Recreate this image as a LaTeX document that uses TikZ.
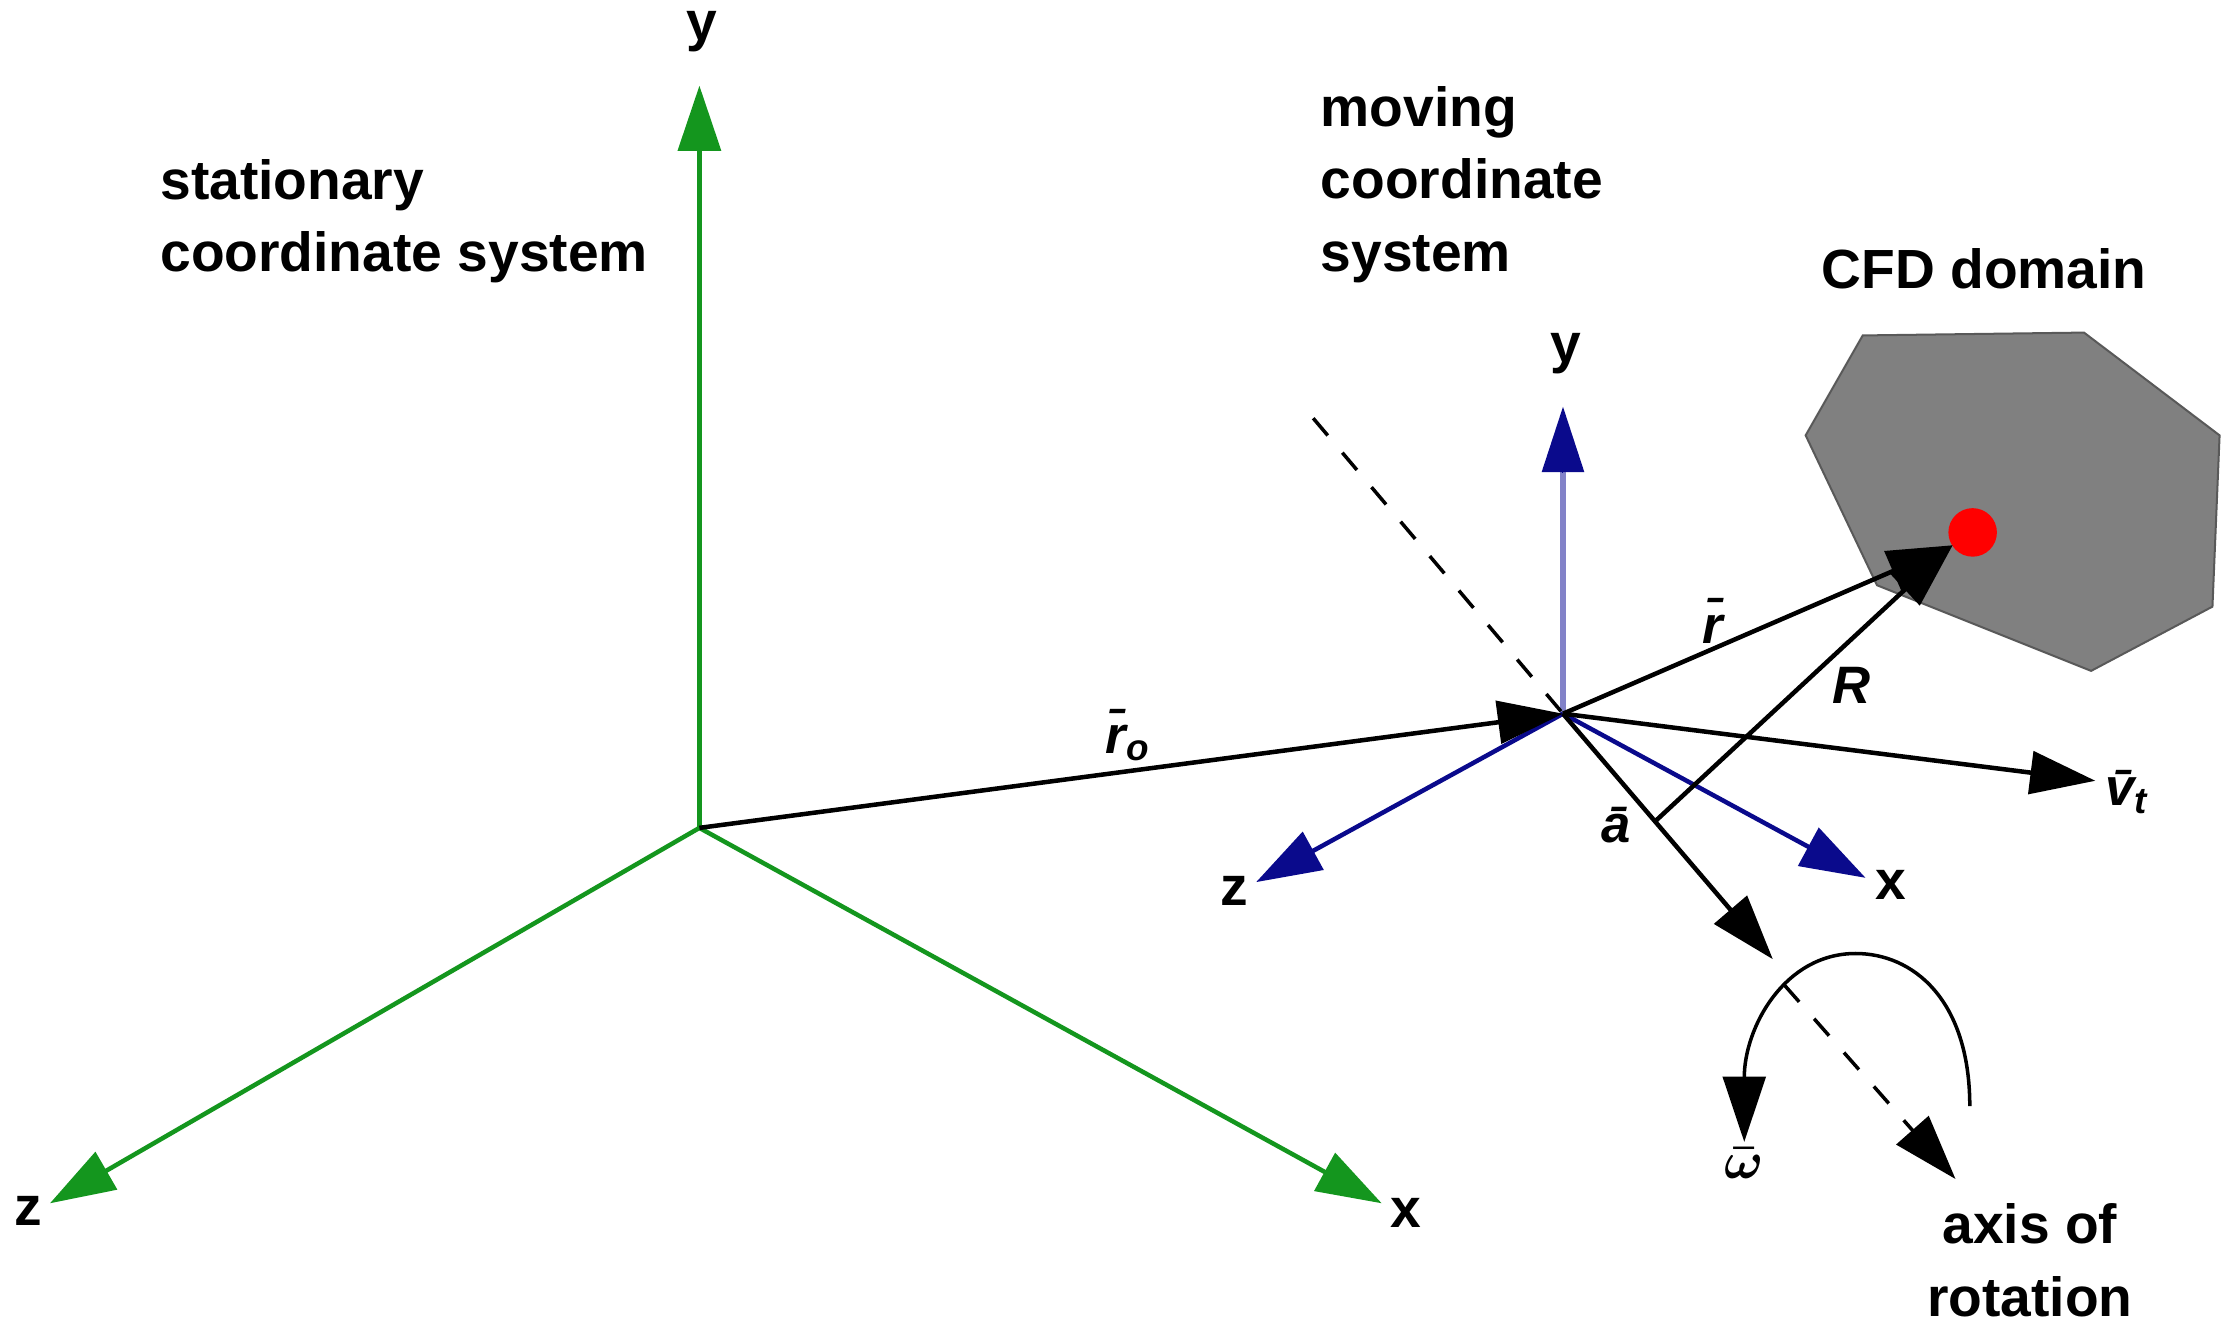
\documentclass[tikz,border=0pt]{standalone}
\usepackage{fontspec}
\usepackage{amsmath}
\setmainfont{Liberation Sans}
\usetikzlibrary{arrows.meta}
\definecolor{gr}{RGB}{20,150,30}
\definecolor{nv}{RGB}{10,10,140}
\definecolor{lb}{RGB}{130,130,200}
\definecolor{dom}{RGB}{128,128,128}
\begin{document}
\begin{tikzpicture}[x=0.02cm,y=-0.02cm,
  lbl/.style={font=\fontsize{22}{29}\selectfont\bfseries,align=left,inner sep=0pt},
  ml/.style={font=\fontsize{21}{24}\selectfont\bfseries\itshape,inner sep=0pt},
  tip/.style={-{Triangle[length=26pt,width=17pt]}},
  g/.style={gr,line width=1.8pt,tip},
  b/.style={nv,line width=1.8pt,tip},
  k/.style={black,line width=1.8pt,tip}]
\useasboundingbox (0,0) rectangle (1563,930);
% CFD domain
\fill[dom,draw=gray!70!black,line width=0.8pt] (1305,235)--(1460,233)--(1555,305)--(1550,425)--(1465,470)--(1315,410)--(1265,305)--cycle;
\fill[red] (1382,373) circle (17);
% stationary system
\coordinate (O) at (490,580);
\coordinate (sy) at (490,60);
\coordinate (sz) at (35,843);
\coordinate (sx) at (968,843);
\draw[g] (O)--(sy); \draw[g] (O)--(sz); \draw[g] (O)--(sx);
\node[lbl] at (492,22) {y};
\node[lbl] at (20,848) {z};
\node[lbl] at (985,850) {x};
% moving system
\coordinate (M) at (1095,500);
\coordinate (my) at (1095,285);
\coordinate (mz) at (880,618);
\coordinate (mx) at (1307,615);
\draw[lb,line width=2.6pt] (M)--(1095,330);
\draw[nv,tip,line width=0pt] (1095,325)--(my);
\draw[b] (M)--(mz); \draw[b] (M)--(mx);
\node[lbl] at (1097,248) {y};
\node[lbl] at (865,624) {z};
\node[lbl] at (1325,620) {x};
% dashed axis
\coordinate (d1) at (920,293);
\draw[line width=1.4pt,dash pattern=on 9pt off 9pt] (d1)--(M);
\coordinate (at) at (1242,672);
\draw[k] (M)--(at);
\coordinate (d2) at (1250,690);
\coordinate (d3) at (1370,826);
\draw[line width=1.4pt,dash pattern=on 9pt off 9pt,-{Triangle[length=26pt,width=17pt]}] (d2)--(d3);
% vectors
\coordinate (P) at (1368,382);
\draw[k] (O)--(M);
\draw[k] (M)--(P);
\coordinate (vt) at (1468,547);
\draw[k] (M)--(vt);
\coordinate (Rs) at (1160,575);
\draw[k] (Rs)--(P);
% rotation arc
\coordinate (w) at (1222,800);
\draw[line width=1.4pt,-{Triangle[length=26pt,width=17pt]}] (1380,775) .. controls (1380,700) and (1340,668) .. (1300,668) .. controls (1250,668) and (1222,720) .. (w);
% labels
\node[lbl] at (112,155) [anchor=west] {stationary\\coordinate system};
\node[lbl,anchor=north west] at (925,60) {moving\\coordinate\\system};
\node[lbl] at (1390,188) {CFD domain};
\node[lbl,align=center] at (1422,883) {axis of\\rotation};
\node[ml] at (790,515) {\=r\textsubscript{o}};
\node[ml] at (1200,435) {\=r};
\node[ml] at (1297,480) {R};
\node[ml] at (1132,578) {\=a};
\node[ml] at (1490,555) {\=v\textsubscript{t}};
\node[font=\fontsize{21}{24}\selectfont\bfseries,inner sep=0pt] at (1222,815) {$\boldsymbol{\bar\omega}$};
\end{tikzpicture}
\end{document}
